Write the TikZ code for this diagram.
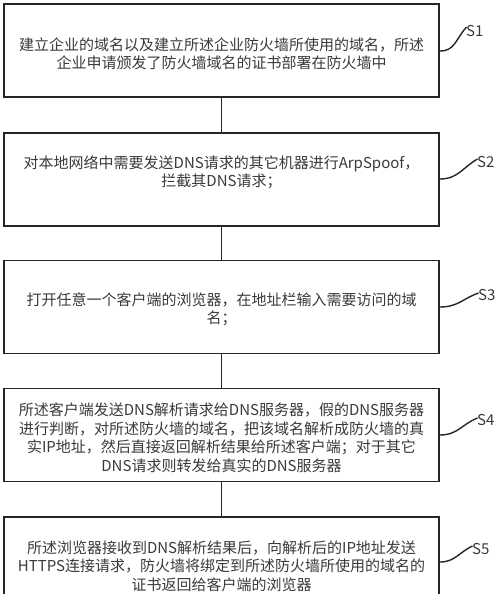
\documentclass[tikz,border=0pt]{standalone}
\usepackage{fontspec}
\setmainfont{Noto Sans CJK SC}
\begin{document}
\begin{tikzpicture}[x=1pt,y=-1pt,
  stepbox/.style={draw=boxcol,line width=1.7pt,minimum width=435pt,minimum height=93pt,inner sep=0pt},
  steptext/.style={text=txtcol,font=\fontsize{15}{18.5}\selectfont,align=center,inner sep=0pt},
  steplabel/.style={text=txtcol,font=\fontsize{15}{18}\selectfont,inner sep=0pt,anchor=west},
  link/.style={draw=boxcol,line width=1.7pt},
  hook/.style={draw=boxcol,line width=1.4pt}]
\definecolor{boxcol}{HTML}{262626}
\definecolor{txtcol}{HTML}{3A3A3A}
\useasboundingbox (0,0) rectangle (500,594);
\clip (0,0) rectangle (500,594);
\fill[white] (0,0) rectangle (500,594);
% boxes
\node[stepbox] (b1) at (221.5,50.5) {};
\node[stepbox] (b2) at (221.5,179.5) {};
\node[stepbox] (b3) at (221.5,307) {};
\node[stepbox] (b4) at (221.5,435) {};
\node[stepbox] (b5) at (221.5,563.5) {};
% texts
\node[steptext] (t1) at (221.5,54) {建立企业的域名以及建立所述企业防火墙所使用的域名，所述\\企业申请颁发了防火墙域名的证书部署在防火墙中};
\node[steptext] (t2) at (221.5,172.5) {对本地网络中需要发送DNS请求的其它机器进行ArpSpoof，\\拦截其DNS请求；};
\node[steptext] (t3) at (221.5,309.5) {打开任意一个客户端的浏览器，在地址栏输入需要访问的域\\名；};
\node[steptext] (t4) at (221.5,437.5) {所述客户端发送DNS解析请求给DNS服务器，假的DNS服务器\\进行判断，对所述防火墙的域名，把该域名解析成防火墙的真\\实IP地址，然后直接返回解析结果给所述客户端；对于其它\\DNS请求则转发给真实的DNS服务器};
\node[steptext] (t5) at (221.5,566) {所述浏览器接收到DNS解析结果后，向解析后的IP地址发送\\HTTPS连接请求，防火墙将绑定到所述防火墙所使用的域名的\\证书返回给客户端的浏览器};
% connectors
\draw[link] (b1.south) -- (b2.north);
\draw[link] (b2.south) -- (b3.north);
\draw[link] (b3.south) -- (b4.north);
\draw[link] (b4.south) -- (b5.north);
% labels
\node[steplabel] (l1) at (466,31) {S1};
\node[steplabel] (l2) at (477,162) {S2};
\node[steplabel] (l3) at (478,295) {S3};
\node[steplabel] (l4) at (477,420) {S4};
\node[steplabel] (l5) at (472,549) {S5};
\coordinate (h1) at (439.8,51);
\coordinate (h2) at (439.8,179);
\coordinate (h3) at (439.8,307);
\coordinate (h4) at (439.8,435);
\coordinate (h5) at (439.8,562);
\draw[hook] (h1) .. controls (455,51) and (455,40) .. ([xshift=0.5pt,yshift=4pt]l1.west);
\draw[hook] (h2) .. controls (458,179) and (462,168) .. ([xshift=0.5pt,yshift=3pt]l2.west);
\draw[hook] (h3) .. controls (458,307) and (462,299) .. ([xshift=0.5pt,yshift=2pt]l3.west);
\draw[hook] (h4) .. controls (458,435) and (462,424) .. ([xshift=0.5pt,yshift=2pt]l4.west);
\draw[hook] (h5) .. controls (455,562) and (458,553) .. ([xshift=0.5pt,yshift=3pt]l5.west);
\end{tikzpicture}
\end{document}
